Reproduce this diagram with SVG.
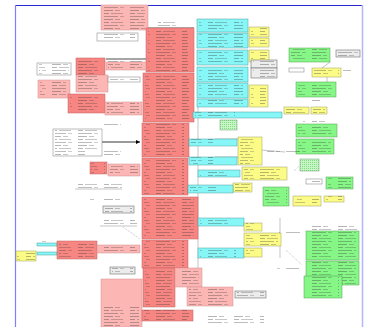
<svg xmlns="http://www.w3.org/2000/svg" width="366" height="327" viewBox="0 0 366 327">
<style>
.s{fill:#f78682;stroke:#c06060;stroke-width:.5}
.p{fill:#fcb6b4;stroke:#d09090;stroke-width:.5}
.c{fill:#86f6f6;stroke:#50a0a0;stroke-width:.5}
.y{fill:#fbfb86;stroke:#a0a060;stroke-width:.5}
.g{fill:#86f686;stroke:#50a050;stroke-width:.5}
.l{fill:#ececec;stroke:#707070;stroke-width:.6}
.n{fill:#fff;stroke:#909090;stroke-width:.6}
.h{fill:url(#hat);stroke:#70a070;stroke-width:.5}
.t{fill:url(#tx)}
.k{stroke:#888;stroke-width:.5;fill:none}
</style>
<defs>
<pattern id="tx" patternUnits="userSpaceOnUse" width="26" height="9">
<rect x="0" y="1" width="9" height=".8" fill="#333" opacity=".45"/>
<rect x="11" y="1" width="5" height=".8" fill="#333" opacity=".35"/>
<rect x="0" y="4" width="5" height=".8" fill="#333" opacity=".45"/>
<rect x="7" y="4" width="12" height=".8" fill="#333" opacity=".35"/>
<rect x="0" y="7" width="14" height=".8" fill="#333" opacity=".4"/>
<rect x="16" y="7" width="4" height=".8" fill="#333" opacity=".3"/>
</pattern>
<pattern id="hat" patternUnits="userSpaceOnUse" width="2" height="2">
<rect width="2" height="2" fill="#c8f5c8"/><rect width="1" height="1" fill="#80e080"/>
</pattern>
<marker id="ar" viewBox="0 0 6 6" refX="6" refY="3" markerWidth="5" markerHeight="5" orient="auto"><path d="M0,0L6,3L0,6z" fill="#000"/></marker>
</defs>
<rect width="366" height="327" fill="#fff"/>
<g id="frame">
<line x1="15" y1="5.5" x2="363" y2="5.5" stroke="#2828d0" stroke-width="1"/>
<line x1="15.5" y1="5" x2="15.5" y2="327" stroke="#8080ff" stroke-width="1.2"/>
<line x1="362.5" y1="5" x2="362.5" y2="327" stroke="#b4b4ff" stroke-width="1.5"/>
</g>
<g id="connectors">
<line x1="102" y1="142" x2="140" y2="142" stroke="#000" stroke-width=".8" marker-end="url(#ar)"/>
<line class="k" x1="198" y1="104" x2="198" y2="268"/>
<line class="k" x1="280" y1="218" x2="280" y2="258"/>
<line class="k" x1="123" y1="227" x2="140" y2="239" stroke-dasharray="1,1"/>
<line class="k" x1="286" y1="250" x2="302" y2="265" stroke-dasharray="1,1"/>
<line class="k" x1="294" y1="171" x2="299" y2="166" stroke-dasharray="1,1"/>
<line class="k" x1="330" y1="62" x2="322" y2="68"/>
<line class="k" x1="327" y1="77" x2="327" y2="82"/>
<line x1="106" y1="59" x2="146" y2="59" stroke="#000" stroke-width=".7"/>
<line x1="146" y1="28" x2="194" y2="28" stroke="#000" stroke-width=".6"/>
<line class="k" x1="215" y1="139" x2="240" y2="139"/>
<line class="k" x1="215" y1="157" x2="240" y2="157"/>
<line class="k" x1="261" y1="150" x2="285" y2="152"/>
<line class="k" x1="75" y1="189" x2="122" y2="189"/>
<line class="k" x1="100" y1="226" x2="137" y2="226"/>
</g>
<g id="n1"><rect class="p" x="101" y="5" width="47" height="25"/><rect class="t" x="103" y="7" width="42" height="22"/></g>
<g id="n2"><rect class="n" x="97" y="33" width="41" height="8"/><rect class="t" x="99" y="34" width="36" height="6"/></g>
<g id="n3"><rect class="s" x="146" y="28" width="48" height="44"/><rect class="t" x="148" y="30" width="40" height="41"/><rect class="t" x="158" y="21" width="22" height="6"/></g>
<g id="n4"><rect class="n" x="37" y="63" width="34" height="12"/><rect class="t" x="39" y="64" width="30" height="10"/></g>
<g id="n5"><rect class="s" x="76" y="58" width="29" height="17"/><rect class="t" x="78" y="59" width="24" height="15"/></g>
<g id="n6"><rect class="p" x="106" y="62" width="40" height="8"/><rect class="t" x="108" y="60" width="34" height="9"/></g>
<g id="n7"><rect class="p" x="76" y="75" width="32" height="17"/><rect class="t" x="78" y="76" width="26" height="15"/></g>
<g id="n8"><rect class="n" x="108" y="77" width="32" height="5"/><rect class="t" x="110" y="77" width="28" height="4"/></g>
<g id="n9"><rect class="p" x="38" y="80" width="32" height="18"/><rect class="t" x="40" y="81" width="26" height="16"/></g>
<g id="n10"><rect class="s" x="143" y="73" width="51" height="49"/><rect class="t" x="145" y="74" width="44" height="47"/></g>
<g id="n11"><rect class="s" x="68" y="94" width="37" height="19"/><rect class="t" x="70" y="95" width="32" height="17"/></g>
<g id="n12"><rect class="p" x="105" y="102" width="37" height="13"/><rect class="t" x="107" y="102" width="32" height="12"/></g>
<g id="n13"><rect class="n" x="53" y="129" width="49" height="27"/><rect class="t" x="55" y="129" width="45" height="20"/><rect class="t" x="55" y="151" width="30" height="4"/></g>
<g id="n14"><rect class="s" x="142" y="123" width="47" height="34"/><rect class="t" x="144" y="124" width="40" height="32"/></g>
<g id="n15"><rect class="s" x="90" y="162" width="17" height="12"/><rect class="t" x="91" y="163" width="14" height="10"/></g>
<g id="n16"><rect class="p" x="108" y="164" width="32" height="12"/><rect class="t" x="110" y="164" width="28" height="10"/></g>
<g id="n17"><rect class="t" x="75" y="183" width="47" height="5"/><rect class="t" x="90" y="197" width="32" height="4"/><rect class="t" x="103" y="122" width="18" height="5"/><rect class="t" x="103" y="151" width="18" height="4"/></g>
<g id="n18"><rect class="l" x="103" y="206" width="31" height="7"/><rect class="t" x="105" y="206" width="27" height="6"/></g>
<g id="n19"><rect class="s" x="142" y="158" width="46" height="37"/><rect class="t" x="144" y="159" width="40" height="35"/></g>
<g id="n20"><rect class="s" x="142" y="197" width="56" height="42"/><rect class="t" x="144" y="198" width="50" height="40"/></g>
<g id="n21"><rect class="t" x="100" y="220" width="37" height="5"/></g>
<g id="n22"><rect class="c" x="37" y="243" width="20" height="3"/><rect class="c" x="37" y="252" width="20" height="3"/><rect class="t" x="40" y="239" width="8" height="3"/></g>
<g id="n23"><rect class="y" x="16" y="251" width="20" height="10"/><rect class="t" x="17" y="251" width="18" height="9"/></g>
<g id="n24"><rect class="s" x="57" y="241" width="40" height="18"/><rect class="t" x="59" y="242" width="35" height="16"/></g>
<g id="n25"><rect class="p" x="97" y="245" width="43" height="8"/><rect class="t" x="99" y="245" width="38" height="7"/></g>
<g id="n26"><rect class="s" x="142" y="240" width="46" height="28"/><rect class="t" x="144" y="241" width="40" height="26"/></g>
<g id="n27"><rect class="l" x="110" y="267" width="25" height="7"/><rect class="t" x="112" y="267" width="21" height="6"/></g>
<g id="n28"><rect class="p" x="101" y="279" width="41" height="48" stroke="#909090"/><rect class="t" x="103" y="305" width="36" height="22"/></g>
<g id="n29"><rect class="s" x="143" y="268" width="32" height="39"/><rect class="t" x="145" y="269" width="27" height="37"/></g>
<g id="n30"><rect class="p" x="175" y="268" width="27" height="19"/><rect class="t" x="177" y="269" width="22" height="17"/></g>
<g id="n31"><rect class="p" x="187" y="287" width="46" height="19"/><rect class="t" x="189" y="288" width="40" height="17"/></g>
<g id="n32"><rect class="s" x="142" y="310" width="51" height="11"/><rect class="t" x="144" y="310" width="45" height="10"/></g>
<g id="n33"><rect class="t" x="207" y="315" width="37" height="10"/><rect class="t" x="244" y="315" width="20" height="10"/></g>
<g id="n34"><rect class="c" x="197" y="19" width="51" height="13"/><rect class="t" x="199" y="20" width="44" height="11"/></g>
<g id="n35"><rect class="c" x="197" y="33" width="51" height="15"/><rect class="t" x="199" y="34" width="44" height="13"/></g>
<g id="n36"><rect class="c" x="197" y="50" width="51" height="15"/><rect class="t" x="199" y="51" width="44" height="13"/></g>
<g id="n37"><rect class="c" x="197" y="67" width="51" height="15"/><rect class="t" x="199" y="68" width="44" height="13"/></g>
<g id="n38"><rect class="c" x="197" y="83" width="51" height="15"/><rect class="t" x="199" y="84" width="44" height="13"/></g>
<g id="n39"><rect class="c" x="197" y="99" width="51" height="8"/><rect class="t" x="199" y="99" width="44" height="7"/></g>
<g id="n40"><rect class="c" x="193" y="112" width="89" height="6"/><rect class="t" x="195" y="112" width="40" height="5"/></g>
<g id="n41"><rect class="y" x="249" y="27" width="20" height="10" stroke="#333"/><rect class="t" x="251" y="28" width="16" height="8"/></g>
<g id="n42"><rect class="y" x="249" y="38" width="20" height="9"/><rect class="t" x="251" y="38" width="16" height="8"/></g>
<g id="n43"><rect class="y" x="249" y="50" width="20" height="12"/><rect class="t" x="251" y="51" width="16" height="10"/></g>
<g id="n44"><rect class="l" x="251" y="60" width="26" height="8"/><rect class="t" x="253" y="61" width="22" height="6"/></g>
<g id="n45"><rect class="l" x="251" y="68" width="26" height="10"/><rect class="t" x="253" y="69" width="22" height="8"/></g>
<g id="n46"><rect class="y" x="249" y="85" width="19" height="22"/><rect class="t" x="251" y="86" width="15" height="20"/></g>
<g id="n47"><rect class="g" x="289" y="48" width="41" height="14"/><rect class="t" x="291" y="49" width="36" height="12"/></g>
<g id="n48"><rect class="l" x="336" y="50" width="24" height="7"/><rect class="t" x="338" y="50" width="20" height="6"/></g>
<g id="n49"><rect class="n" x="289" y="68" width="15" height="4"/><rect class="y" x="312" y="68" width="29" height="9"/><rect class="t" x="314" y="69" width="25" height="7"/><rect class="t" x="343" y="69" width="8" height="3"/></g>
<g id="n50"><rect class="g" x="296" y="82" width="40" height="15"/><rect class="t" x="298" y="83" width="35" height="13"/><rect class="t" x="302" y="98" width="18" height="3"/></g>
<g id="n51"><rect class="y" x="284" y="107" width="25" height="7"/><rect class="t" x="286" y="107" width="20" height="6"/></g>
<g id="n52"><rect class="y" x="311" y="107" width="16" height="7"/><rect class="t" x="313" y="107" width="12" height="6"/></g>
<g id="n53"><rect class="g" x="296" y="124" width="41" height="13"/><rect class="t" x="298" y="125" width="36" height="11"/><rect class="t" x="303" y="120" width="22" height="3"/></g>
<g id="n54"><rect class="g" x="296" y="139" width="38" height="15" stroke="#333"/><rect class="t" x="298" y="140" width="33" height="13"/></g>
<g id="n55"><rect class="y" x="238" y="137" width="24" height="28"/><rect class="t" x="240" y="138" width="20" height="26"/></g>
<g id="n56"><rect class="h" x="300" y="159" width="19" height="12"/></g>
<g id="n57"><rect class="y" x="242" y="167" width="45" height="13" stroke="#333"/><rect class="t" x="244" y="168" width="40" height="11"/></g>
<g id="n58"><rect class="n" x="306" y="179" width="16" height="5"/><rect class="t" x="308" y="179" width="12" height="4"/></g>
<g id="n59"><rect class="g" x="326" y="177" width="27" height="12"/><rect class="t" x="328" y="178" width="23" height="10"/></g>
<g id="n60"><rect class="g" x="263" y="187" width="26" height="19"/><rect class="t" x="265" y="188" width="22" height="17"/></g>
<g id="n61"><rect class="y" x="233" y="183" width="19" height="9"/><rect class="t" x="235" y="184" width="15" height="7"/></g>
<g id="n62"><rect class="y" x="293" y="196" width="28" height="10"/><rect class="t" x="295" y="197" width="24" height="8"/></g>
<g id="n63"><rect class="y" x="324" y="196" width="20" height="6"/><rect class="t" x="326" y="196" width="16" height="5"/></g>
<g id="n64"><rect class="h" x="220" y="120" width="17" height="10"/></g>
<g id="n65"><rect class="c" x="189" y="139" width="48" height="7"/><rect class="t" x="191" y="139" width="22" height="6"/></g>
<g id="n66"><rect class="c" x="189" y="157" width="48" height="8"/><rect class="t" x="191" y="157" width="22" height="7"/></g>
<g id="n67"><rect class="c" x="198" y="170" width="42" height="7"/><rect class="t" x="200" y="170" width="30" height="6"/></g>
<g id="n68"><rect class="c" x="188" y="185" width="45" height="8"/><rect class="t" x="190" y="185" width="26" height="7"/></g>
<g id="n69"><rect class="c" x="198" y="218" width="46" height="8"/><rect class="t" x="200" y="218" width="30" height="7"/></g>
<g id="n70"><rect class="c" x="198" y="248" width="46" height="10"/><rect class="t" x="200" y="248" width="36" height="9"/></g>
<g id="n71"><rect class="y" x="244" y="223" width="18" height="8"/><rect class="t" x="246" y="223" width="14" height="7"/></g>
<g id="n72"><rect class="y" x="244" y="233" width="37" height="13"/><rect class="t" x="246" y="234" width="32" height="11"/></g>
<g id="n73"><rect class="y" x="244" y="248" width="18" height="9"/><rect class="t" x="246" y="248" width="14" height="8"/></g>
<g id="n74"><rect class="g" x="306" y="231" width="53" height="29"/><rect class="t" x="308" y="232" width="48" height="27"/><rect class="t" x="306" y="225" width="51" height="5"/></g>
<g id="n75"><rect class="g" x="306" y="261" width="53" height="24"/><rect class="t" x="308" y="262" width="48" height="22"/></g>
<g id="n76"><rect class="g" x="304" y="276" width="38" height="22"/><rect class="t" x="306" y="277" width="33" height="20"/></g>
<g id="n77"><rect class="l" x="235" y="291" width="31" height="7"/><rect class="t" x="237" y="291" width="27" height="6"/></g>
<g id="n78"><rect class="t" x="279" y="231" width="23" height="3"/><rect class="t" x="277" y="267" width="22" height="3"/><rect class="t" x="267" y="151" width="32" height="3"/></g>
</svg>
